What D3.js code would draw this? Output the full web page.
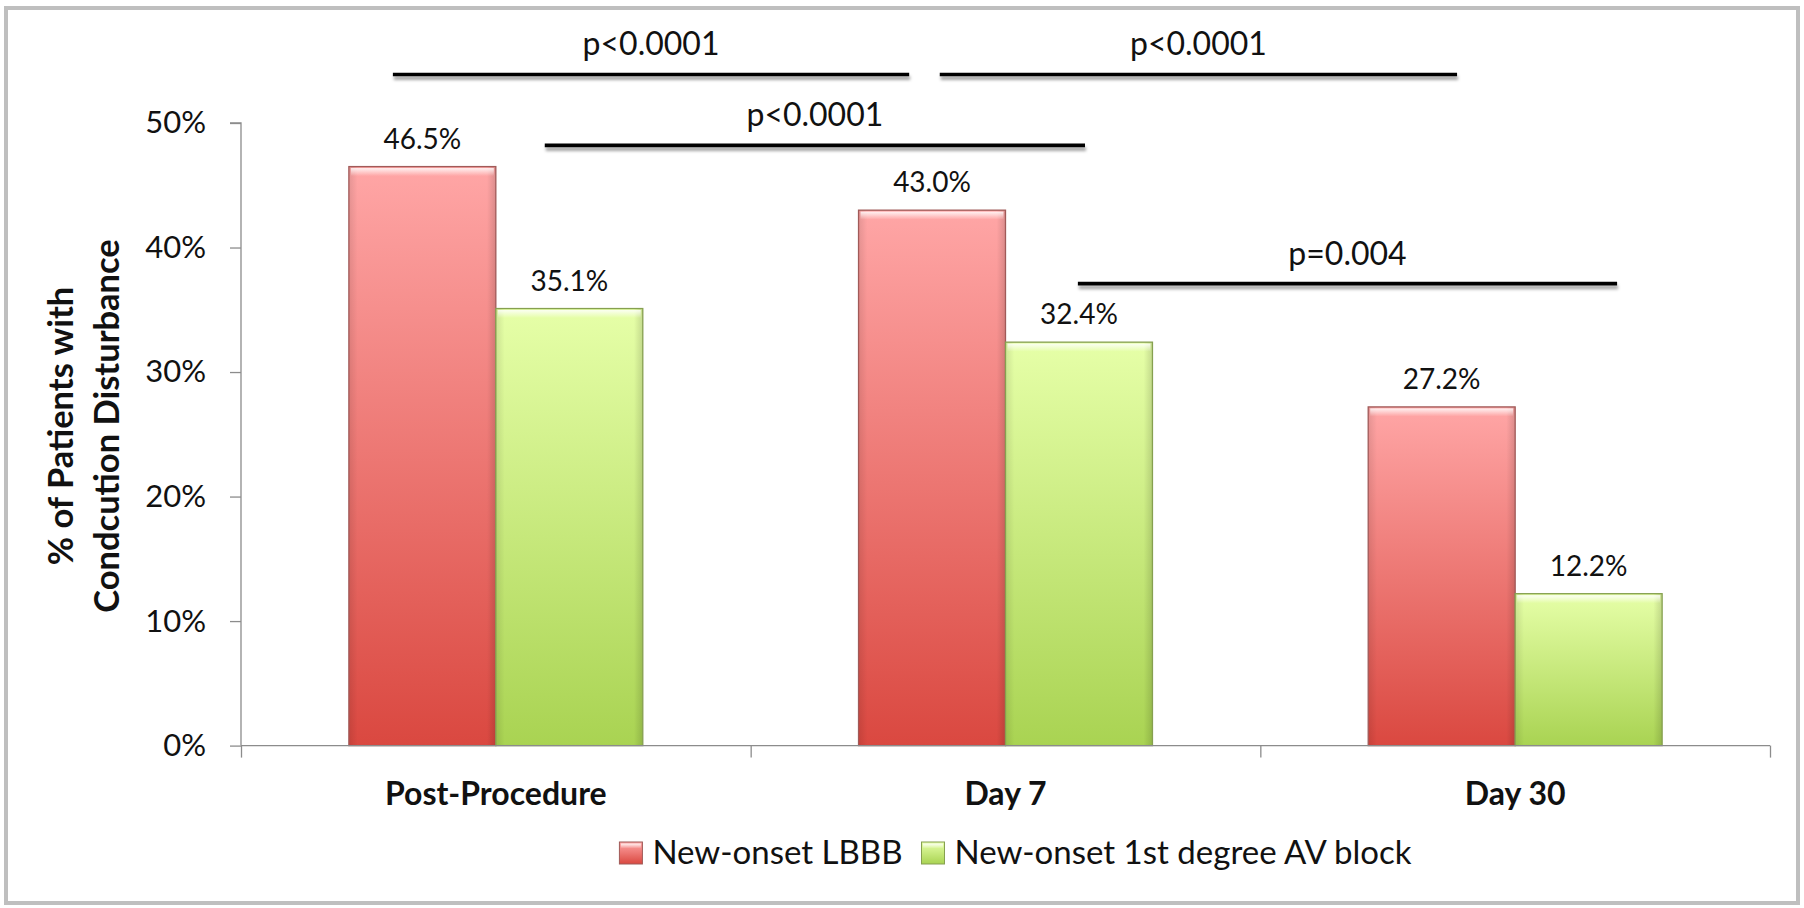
<!DOCTYPE html>
<html>
<head>
<meta charset="utf-8">
<script src="https://cdn.jsdelivr.net/npm/d3@7/dist/d3.min.js"></script>
<style>
  html, body { margin: 0; padding: 0; background: #ffffff; }
  svg { display: block; font-family: Lato, "Open Sans", sans-serif; }
</style>
</head>
<body>
<svg id="chart" width="1804" height="908"></svg>
<script>
// ---------- data ----------
const categories = ["Post-Procedure", "Day 7", "Day 30"];
const seriesNames = ["New-onset LBBB", "New-onset 1st degree AV block"];
const lbbbValues = [46.5, 43.0, 27.2];
const avBlockValues = [35.1, 32.4, 12.2];
const yTickValues = [0, 10, 20, 30, 40, 50];
const yTitleLines = ["% of Patients with", "Condcution Disturbance"];
// significance annotations (x in category units, level in % units)
const pLabels = ["p<0.0001", "p<0.0001", "p<0.0001", "p=0.004"];
const pFrom   = [0.298, 1.371, 0.596, 1.642];
const pTo     = [1.311, 2.386, 1.656, 2.700];
const pLevel  = [53.9, 53.9, 48.2, 37.1];

// ---------- layout ----------
const W = 1804, H = 908;
const plot = { left: 241, right: 1770, top: 123, bottom: 745.6 };
const colors = [
  { top: "#ffa6a6", bottom: "#da4840", stroke: "#a05a58" },
  { top: "#e6ffa8", bottom: "#a9d352", stroke: "#86a050" }
];

const svg = d3.select("#chart");
const defs = svg.append("defs");

colors.forEach((c, i) => {
  const g = defs.append("linearGradient").attr("id", "grad" + i)
    .attr("x1", 0).attr("y1", 0).attr("x2", 0).attr("y2", 1);
  g.append("stop").attr("offset", "0%").attr("stop-color", c.top);
  g.append("stop").attr("offset", "100%").attr("stop-color", c.bottom);
});
const bev = defs.append("linearGradient").attr("id", "bevel")
  .attr("x1", 0).attr("y1", 0).attr("x2", 0).attr("y2", 1);
bev.append("stop").attr("offset", "0%").attr("stop-color", "#ffffff").attr("stop-opacity", 0.85);
bev.append("stop").attr("offset", "100%").attr("stop-color", "#ffffff").attr("stop-opacity", 0);
const side = defs.append("linearGradient").attr("id", "side")
  .attr("x1", 0).attr("y1", 0).attr("x2", 1).attr("y2", 0);
side.append("stop").attr("offset", "0%").attr("stop-color", "#000").attr("stop-opacity", 0.10);
side.append("stop").attr("offset", "6%").attr("stop-color", "#000").attr("stop-opacity", 0);
side.append("stop").attr("offset", "94%").attr("stop-color", "#000").attr("stop-opacity", 0);
side.append("stop").attr("offset", "100%").attr("stop-color", "#000").attr("stop-opacity", 0.14);

const blur = defs.append("filter").attr("id", "blur")
  .attr("filterUnits", "userSpaceOnUse")
  .attr("x", 0).attr("y", 0).attr("width", W).attr("height", H);
blur.append("feGaussianBlur").attr("stdDeviation", 1.6);

// outer frame
svg.append("rect").attr("x", 6).attr("y", 8).attr("width", 1792).attr("height", 895)
  .attr("fill", "#fff").attr("stroke", "#bfbfbf").attr("stroke-width", 4);

// ---------- scales ----------
const x0 = d3.scaleBand().domain(categories).range([plot.left, plot.right]).padding(0);
const x1 = d3.scaleBand().domain(seriesNames).range([0, x0.bandwidth()])
  .paddingInner(0).paddingOuter(0.734);
const xUnits = d3.scaleLinear().domain([0, categories.length]).range([plot.left, plot.right]);
const y = d3.scaleLinear().domain([0, 50]).range([plot.bottom, plot.top]);

const series = [lbbbValues, avBlockValues];

// ---------- bars ----------
const gBars = svg.append("g");
categories.forEach((cat, ci) => {
  seriesNames.forEach((s, si) => {
    const v = series[si][ci];
    const bx = x0(cat) + x1(s), bw = x1.bandwidth();
    const by = y(v), bh = y(0) - y(v);
    gBars.append("rect").attr("x", bx).attr("y", by).attr("width", bw).attr("height", bh)
      .attr("fill", `url(#grad${si})`);
    gBars.append("rect").attr("x", bx).attr("y", by).attr("width", bw).attr("height", bh)
      .attr("fill", "url(#side)");
    gBars.append("rect").attr("x", bx + 2).attr("y", by + 1.5).attr("width", bw - 4).attr("height", 8)
      .attr("fill", "url(#bevel)");
    gBars.append("rect").attr("x", bx).attr("y", by).attr("width", bw).attr("height", bh)
      .attr("fill", "none").attr("stroke", colors[si].stroke).attr("stroke-width", 1.3);
    // data label
    svg.append("text").attr("x", bx + bw / 2).attr("y", by - 18)
      .attr("text-anchor", "middle").attr("font-size", 28).attr("fill", "#111")
      .text(v.toFixed(1) + "%");
  });
});

// ---------- axes ----------
const yAxis = svg.append("g").attr("transform", `translate(${plot.left},0)`)
  .call(d3.axisLeft(y).tickValues(yTickValues).tickSize(11).tickPadding(24)
    .tickFormat(d => d + "%"));
yAxis.selectAll("path, line").attr("stroke", "#8c8c8c").attr("stroke-width", 1.3);
yAxis.select(".domain").attr("d", `M-11,${y(50)}H0V${y(0)}`);
yAxis.selectAll("text").attr("font-size", 31).attr("fill", "#111")
  .attr("font-family", "Lato, sans-serif");

const xAxis = svg.append("g").attr("transform", `translate(0,${plot.bottom})`)
  .call(d3.axisBottom(xUnits).tickValues(d3.range(categories.length + 1)).tickSize(12)
    .tickFormat(""));
xAxis.selectAll("path, line").attr("stroke", "#8c8c8c").attr("stroke-width", 1.3);
xAxis.select(".domain").attr("d", `M${plot.left},0H${plot.right}`);

// category labels
svg.append("g").selectAll("text").data(categories).join("text")
  .attr("x", d => x0(d) + x0.bandwidth() / 2).attr("y", 805)
  .attr("text-anchor", "middle").attr("font-size", 32).attr("font-weight", 700)
  .attr("fill", "#111").text(d => d);

// y title
const yTitle = svg.append("text")
  .attr("transform", "translate(0,426) rotate(-90)")
  .attr("text-anchor", "middle").attr("font-size", 34.5).attr("font-weight", 700).attr("fill", "#111");
yTitleLines.forEach((t, i) => {
  yTitle.append("tspan").attr("x", 0).attr("y", 73 + i * 46).text(t);
});

// ---------- significance brackets ----------
const gSig = svg.append("g");
pLabels.forEach((lab, i) => {
  const xa = xUnits(pFrom[i]), xb = xUnits(pTo[i]), yy = y(pLevel[i]);
  gSig.append("line").attr("x1", xa + 1).attr("x2", xb + 1).attr("y1", yy + 3.5).attr("y2", yy + 3.5)
    .attr("stroke", "#000").attr("stroke-opacity", 0.35).attr("stroke-width", 4)
    .attr("filter", "url(#blur)");
  gSig.append("line").attr("x1", xa).attr("x2", xb).attr("y1", yy).attr("y2", yy)
    .attr("stroke", "#000").attr("stroke-width", 3.6);
  gSig.append("text").attr("x", (xa + xb) / 2).attr("y", yy - 19)
    .attr("text-anchor", "middle").attr("font-size", 32).attr("fill", "#111").text(lab);
});

// ---------- legend ----------
const legend = svg.append("g");
let cursor = 0;
seriesNames.forEach((s, i) => {
  const g = legend.append("g");
  g.append("rect").attr("x", cursor).attr("y", -22).attr("width", 23).attr("height", 22)
    .attr("fill", `url(#grad${i})`).attr("stroke", colors[i].stroke).attr("stroke-width", 1);
  g.append("rect").attr("x", cursor + 1.5).attr("y", -20.5).attr("width", 20).attr("height", 5)
    .attr("fill", "url(#bevel)");
  const t = g.append("text").attr("x", cursor + 33).attr("y", 0).attr("font-size", 33)
    .attr("fill", "#111").text(s);
  cursor += 33 + t.node().getComputedTextLength() + 19;
});
const legendWidth = cursor - 19;
legend.attr("transform", `translate(${1015.5 - legendWidth / 2},864)`);
</script>
</body>
</html>
